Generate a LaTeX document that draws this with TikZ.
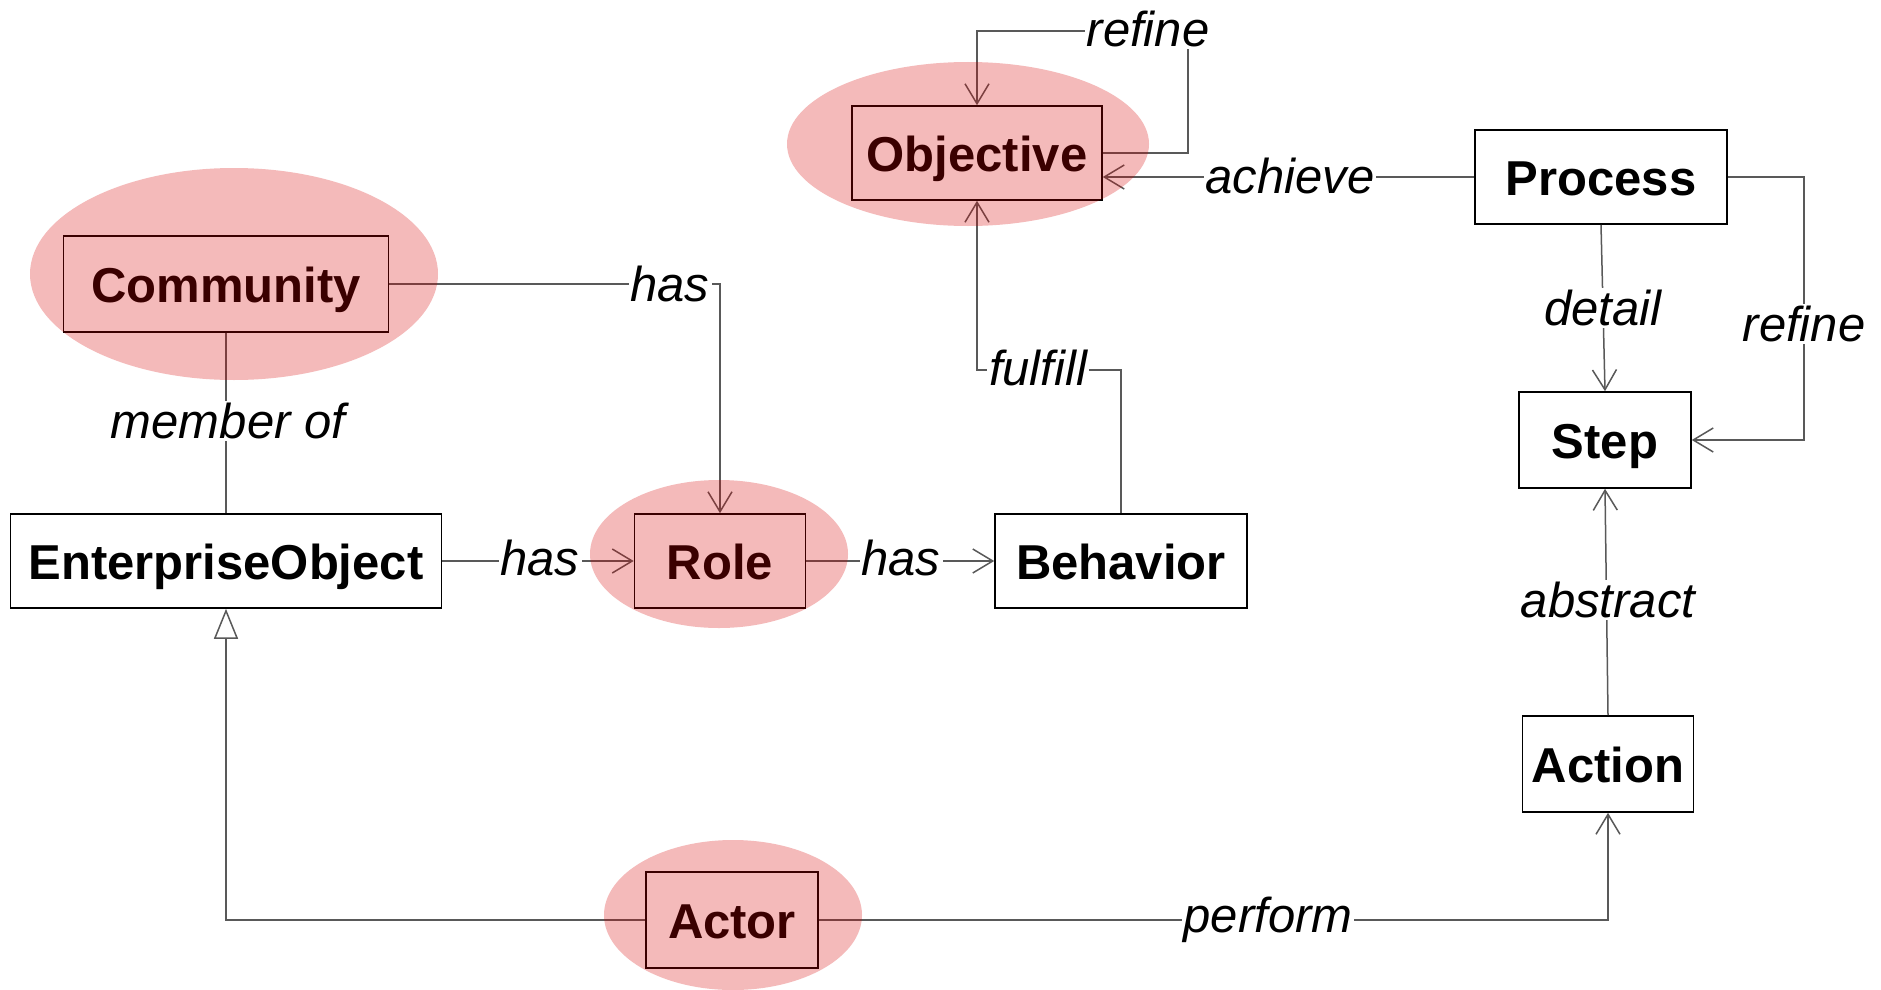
\documentclass[tikz,border=0pt]{standalone}
\usepackage{fontspec}
\setmainfont{Liberation Sans}
\usetikzlibrary{arrows.meta}
\begin{document}
\begin{tikzpicture}[x=1pt,y=-1pt,
  box/.style={draw=black, line width=1.6pt, fill=white, font=\fontsize{49}{56}\selectfont\bfseries, minimum height=94pt, inner sep=0pt, text height=38pt, text depth=2pt},
  conn/.style={draw=black!65, line width=1.5pt},
  arr/.style={conn, -{Straight Barb[length=20pt,width=24pt,line width=1.5pt]}},
  gen/.style={conn, -{Triangle[open,length=30pt,width=24pt,line width=1.5pt,fill=white]}},
  lbl/.style={fill=white, font=\fontsize{49}{56}\selectfont\itshape, inner sep=2pt},
  blob/.style={fill=red!85!black, fill opacity=0.27, draw=none}
]
\useasboundingbox (0,0) rectangle (1881,990);
\fill[white] (0,0) rectangle (1881,990);

% nodes
\node[box, minimum width=250pt] (obj) at (977,153) {Objective};
\node[box, minimum width=252pt] (proc) at (1601,177) {Process};
\node[box, minimum width=325pt, minimum height=96pt] (comm) at (226,284) {Community};
\node[box, minimum width=172pt, minimum height=96pt] (step) at (1605,440) {Step};
\node[box, minimum width=431pt] (eo) at (226,561) {EnterpriseObject};
\node[box, minimum width=171pt] (role) at (720,561) {Role};
\node[box, minimum width=252pt] (beh) at (1121,561) {Behavior};
\node[box, minimum width=171pt, minimum height=96pt] (act) at (1608,764) {Action};
\node[box, minimum width=172pt, minimum height=96pt] (actor) at (732,920) {Actor};

% connectors
\coordinate (r1) at (1188,31);
\draw[arr] (obj.east) -| (r1) -| (obj.north);
\draw[arr] (proc.west) -- (proc.west -| obj.east);
\draw[arr] (proc.south) -- (step.north);
\coordinate (r2) at (1804,440);
\draw[arr] (proc.east) -| (r2) -- (step.east);
\draw[arr] (comm.east) -| (role.north);
\draw[conn] (comm.south) -- (eo.north);
\draw[arr] (eo.east) -- (role.west);
\draw[arr] (role.east) -- (beh.west);
\coordinate (f1) at (977,370);
\draw[arr] (beh.north) |- (f1) -- (obj.south);
\draw[arr] (act.north) -- (step.south);
\draw[gen] (actor.west) -| (eo.south);
\draw[arr] (actor.east) -| (act.south);

% highlight ellipses
\fill[blob] (968,144) ellipse [x radius=181, y radius=82];
\fill[blob] (234,274) ellipse [x radius=204, y radius=106];
\fill[blob] (719,554) ellipse [x radius=129, y radius=74];
\fill[blob] (733,915) ellipse [x radius=129, y radius=75];

% labels
\node[lbl] (lrefine1) at (1148,29) {refine};
\node[lbl] (lachieve) at (1290,176) {achieve};
\node[lbl] (ldetail) at (1603,308) {detail};
\node[lbl] (lrefine2) at (1804,324) {refine};
\node[lbl] (lhas1) at (670,284) {has};
\node[lbl] (lmember) at (228,421) {member of};
\node[lbl] (lhas2) at (540,558) {has};
\node[lbl] (lhas3) at (901,558) {has};
\node[lbl] (lfulfill) at (1038,368) {fulfill};
\node[lbl] (labstract) at (1608,600) {abstract};
\node[lbl] (lperform) at (1268,920) {perform};
\end{tikzpicture}
\end{document}
